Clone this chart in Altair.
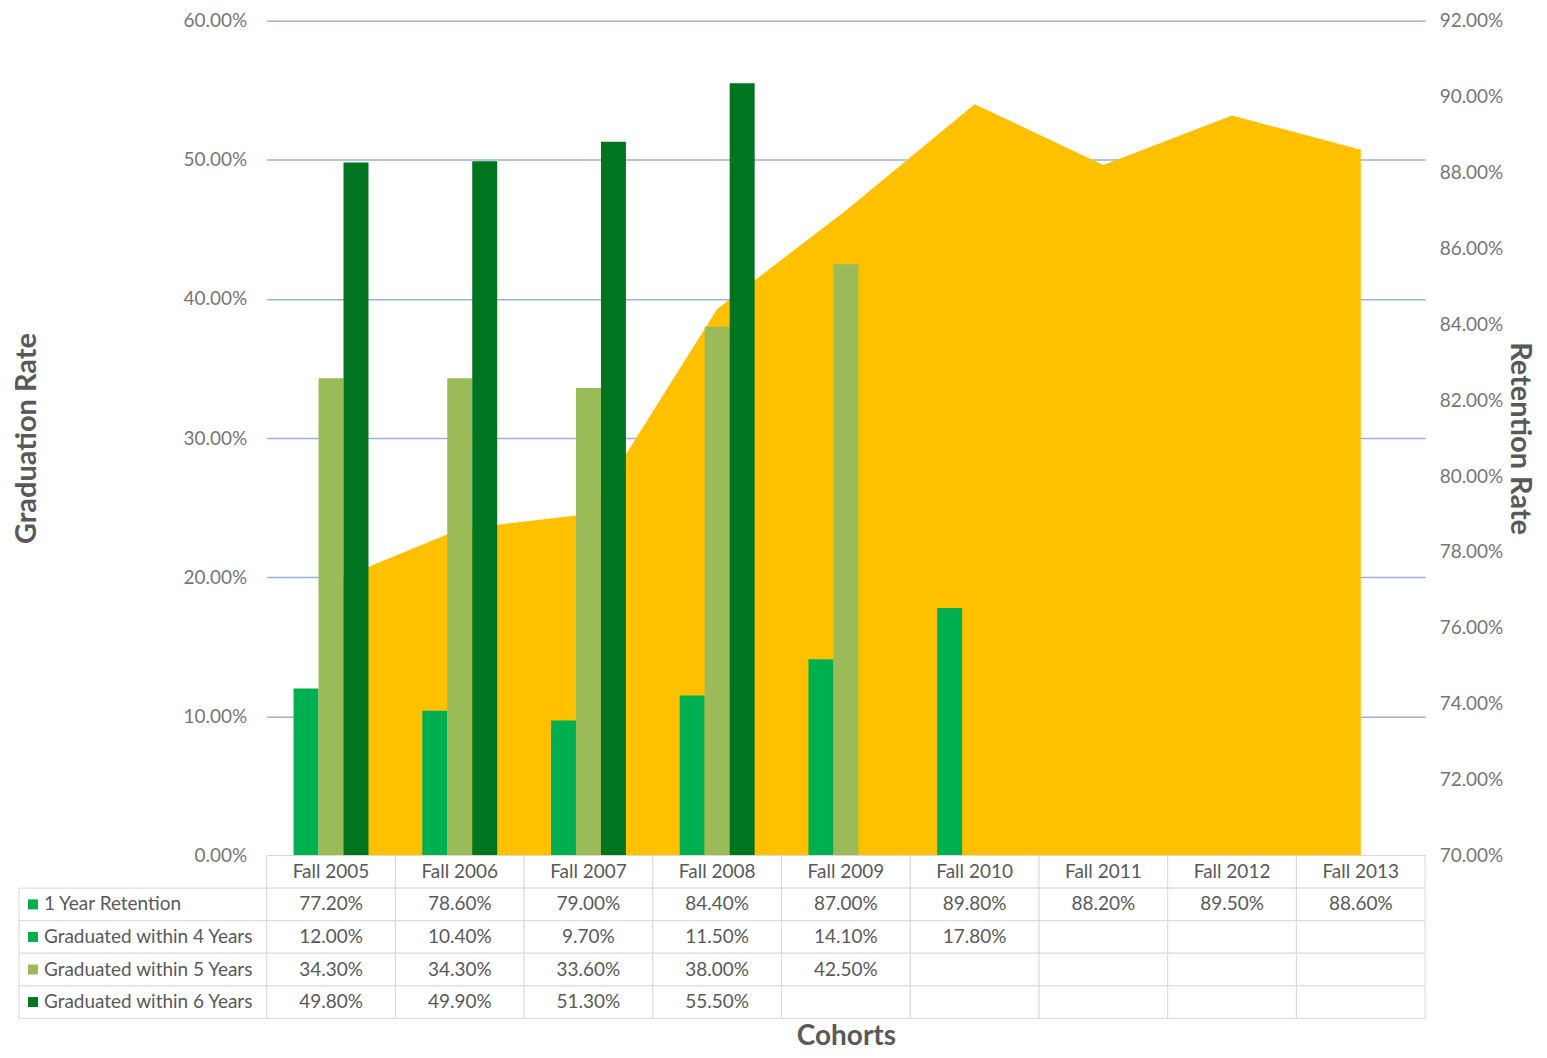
import altair as alt
import pandas as pd

cohorts = ["Fall 2005", "Fall 2006", "Fall 2007", "Fall 2008", "Fall 2009",
           "Fall 2010", "Fall 2011", "Fall 2012", "Fall 2013"]
retention = [77.20, 78.60, 79.00, 84.40, 87.00, 89.80, 88.20, 89.50, 88.60]
grad4 = [12.00, 10.40, 9.70, 11.50, 14.10, 17.80, None, None, None]
grad5 = [34.30, 34.30, 33.60, 38.00, 42.50, None, None, None, None]
grad6 = [49.80, 49.90, 51.30, 55.50, None, None, None, None, None]

row_names = ["1 Year Retention", "Graduated within 4 Years",
             "Graduated within 5 Years", "Graduated within 6 Years"]
row_colors = ["#FFC000", "#00B050", "#9BBB59", "#00741F"]
left_ticks = [0.0, 0.1, 0.2, 0.3, 0.4, 0.5, 0.6]
right_ticks = [0.70, 0.72, 0.74, 0.76, 0.78, 0.80, 0.82, 0.84, 0.86, 0.88, 0.90, 0.92]
ret_base = 0.70

FONT = "Lato"
TXT = "#595959"
LBL = "#767676"
GRID = "#9BB2D6"

W, H = 1160, 836
TH = 163

# ---------- data frames ----------
ret_df = pd.DataFrame({"cohort": cohorts, "ret": [v / 100 for v in retention]})

bar_rows = []
for name, vals in zip(row_names[1:], [grad4, grad5, grad6]):
    for c, v in zip(cohorts, vals):
        if v is not None:
            bar_rows.append({"cohort": c, "series": name, "val": v / 100})
bar_df = pd.DataFrame(bar_rows)

xscale = alt.Scale(domain=cohorts, paddingInner=0.418, paddingOuter=0.209)

area = alt.Chart(ret_df).mark_area(color="#FFC000", opacity=1).encode(
    x=alt.X("cohort:N", sort=cohorts, scale=xscale, axis=None, bandPosition=0.5),
    y=alt.Y("ret:Q",
            scale=alt.Scale(domain=[0.70, 0.92], zero=False, nice=False),
            axis=alt.Axis(orient="right", values=right_ticks, format=".2%",
                          grid=False, domain=False, ticks=False,
                          labelPadding=14, labelFontSize=19, labelColor=LBL,
                          title="Retention Rate", titleFontSize=29,
                          titleFontWeight="bold", titleColor=TXT,
                          titlePadding=2)),
    y2=alt.datum(ret_base),
)

bars = alt.Chart(bar_df).mark_bar(opacity=1).encode(
    x=alt.X("cohort:N", sort=cohorts, scale=xscale, axis=None),
    xOffset=alt.XOffset("series:N", sort=row_names[1:],
                        scale=alt.Scale(domain=row_names[1:], paddingInner=0, paddingOuter=0)),
    y=alt.Y("val:Q",
            scale=alt.Scale(domain=[0, 0.6], nice=False),
            axis=alt.Axis(orient="left", values=left_ticks, format=".2%",
                          grid=True, gridColor=GRID, gridWidth=1.5,
                          domain=False, ticks=False,
                          labelPadding=20, labelFontSize=19, labelColor=LBL,
                          title="Graduation Rate", titleFontSize=29,
                          titleFontWeight="bold", titleColor=TXT,
                          titlePadding=142)),
    color=alt.Color("series:N", scale=alt.Scale(domain=row_names[1:], range=row_colors[1:]),
                    legend=None),
)

top = alt.layer(area, bars).resolve_scale(y="independent").properties(width=W, height=H)

# ---------- data table ----------
rows_order = ["header"] + row_names
cells = []
for i, c in enumerate(cohorts):
    cells.append({"cohort": c, "row": "header", "txt": c})
    for name, vals in zip(row_names, [retention, grad4, grad5, grad6]):
        v = vals[i]
        cells.append({"cohort": c, "row": name, "txt": "" if v is None else f"{v:.2f}%"})
cell_df = pd.DataFrame(cells)
hdr_df = pd.DataFrame({"row": row_names, "color": row_colors})

tx = alt.X("cohort:N", sort=cohorts, scale=alt.Scale(domain=cohorts, padding=0),
           axis=alt.Axis(title="Cohorts", labels=False, ticks=False, domain=False,
                         titleFontSize=28, titleFontWeight="bold", titleColor=TXT,
                         titlePadding=4))
ty = alt.Y("row:N", sort=rows_order, scale=alt.Scale(domain=rows_order, padding=0), axis=None)

cell_rect = alt.Chart(cell_df).mark_rect(fill="white", stroke="#D9D9D9", strokeWidth=1).encode(
    x=tx, y=ty)
cell_text = alt.Chart(cell_df).mark_text(fontSize=19, color=TXT, font=FONT).encode(
    x=tx, y=ty, text="txt:N")
hdr_rect = alt.Chart(hdr_df).mark_rect(fill="white", stroke="#D9D9D9", strokeWidth=1).encode(
    x=alt.value(-248), x2=alt.value(0), y=ty)
hdr_sq = alt.Chart(hdr_df).mark_point(shape="square", filled=True, size=100, opacity=1).encode(
    x=alt.value(-234), y=ty,
    color=alt.Color("row:N", scale=alt.Scale(domain=row_names, range=row_colors), legend=None))
hdr_text = alt.Chart(hdr_df).mark_text(fontSize=19, color=TXT, align="left", font=FONT).encode(
    x=alt.value(-223), y=ty, text="row:N")

bottom = alt.layer(cell_rect, cell_text, hdr_rect, hdr_sq, hdr_text).properties(width=W, height=TH)

chart = alt.vconcat(top, bottom, spacing=0, bounds="flush").properties(
    padding={"left": 4, "top": 3, "right": 5, "bottom": 0}
).configure(font=FONT).configure_view(stroke=None).configure_axis(
    labelFont=FONT, titleFont=FONT)

chart.save("out.html", embed_options={"renderer": "svg", "actions": False})
